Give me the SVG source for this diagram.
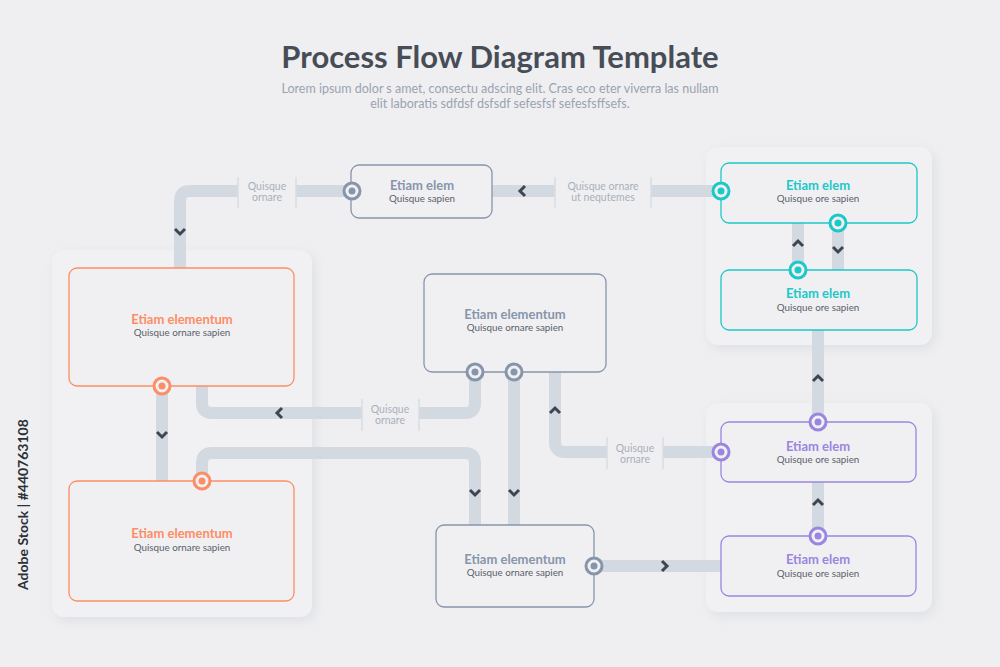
<svg xmlns="http://www.w3.org/2000/svg" width="1000" height="667" viewBox="0 0 1000 667">
<defs>
<filter id="sh" x="-20%" y="-20%" width="140%" height="140%"><feDropShadow dx="3" dy="4" stdDeviation="6" flood-color="#c4c8d0" flood-opacity="0.4"/></filter>
</defs>
<style>
text{font-family:"Lato","Liberation Sans",sans-serif}
.title{font-size:31px;font-weight:bold;fill:#474d57}
.sub{font-size:12.5px;fill:#9aa3b0}
.panel{fill:#f1f1f3;filter:url(#sh)}
.node{fill:#f0f0f2;stroke-width:1.3}
.t{font-size:13px;font-weight:bold;text-anchor:middle}
.s{font-size:9.8px;fill:#5a606a;text-anchor:middle}
.trk{fill:none;stroke:#d3d9e1;stroke-width:12}
.chev{fill:none;stroke:#3f4550;stroke-width:3}
.lb{font-size:10.5px;fill:#a9b0bb;text-anchor:middle}
.lbg{fill:#efeff1}
.sep{stroke:#d8dce2;stroke-width:1.5}
.g{stroke:#8795ab}.gf{fill:#8795ab}
.c{stroke:#1cc8c8}.cf{fill:#1cc8c8}
.o{stroke:#fd8d64}.of{fill:#fd8d64}
.p{stroke:#9a86e0}.pf{fill:#9a86e0}
.ring{fill:#f0f0f2;stroke-width:3}
</style>
<rect width="1000" height="667" fill="#efeff1"/>
<text x="500" y="68" text-anchor="middle" class="title">Process Flow Diagram Template</text>
<text x="500" y="93" text-anchor="middle" class="sub">Lorem ipsum dolor s amet, consectu adscing elit. Cras eco eter viverra las nullam</text>
<text x="500" y="108" text-anchor="middle" class="sub">elit laboratis sdfdsf dsfsdf sefesfsf sefesfsffsefs.</text>
<text transform="translate(28,590) rotate(-90)" font-size="14" font-weight="bold" fill="#2b2f36">Adobe Stock | #440763108</text>
<rect class="panel" x="52" y="250" width="260" height="367" rx="12"/>
<rect class="panel" x="706" y="147" width="226" height="198" rx="12"/>
<rect class="panel" x="706" y="403" width="226" height="209" rx="12"/>
<g id="connectors">
<path class="trk" d="M352,191 H190 Q180,191 180,201 V268"/>
<path class="trk" d="M721,191 H492"/>
<path class="trk" d="M798,223 V270 M838,223 V270"/>
<path class="trk" d="M818,330 V422 M818,482 V536 M162,386 V481"/>
<path class="trk" d="M475,372 V403 Q475,413 465,413 H212 Q202,413 202,403 V386"/>
<path class="trk" d="M202,481 V463 Q202,453 212,453 H465 Q475,453 475,463 V525"/>
<path class="trk" d="M514,372 V525"/>
<path class="trk" d="M721,452 H565 Q555,452 555,442 V372"/>
<path class="trk" d="M594,566 H721"/>
<path class="chev" d="M175,229 L180,234 L185,229"/>
<path class="chev" d="M525,186 L520,191 L525,196"/>
<path class="chev" d="M793,246 L798,241 L803,246"/>
<path class="chev" d="M833,247 L838,252 L843,247"/>
<path class="chev" d="M813,381 L818,376 L823,381"/>
<path class="chev" d="M813,505 L818,500 L823,505"/>
<path class="chev" d="M157,432 L162,437 L167,432"/>
<path class="chev" d="M282,408 L277,413 L282,418"/>
<path class="chev" d="M470,490 L475,495 L480,490"/>
<path class="chev" d="M509,490 L514,495 L519,490"/>
<path class="chev" d="M550,413 L555,408 L560,413"/>
<path class="chev" d="M662,561 L667,566 L662,571"/>
<rect class="lbg" x="238" y="178" width="58" height="28"/><line class="sep" x1="238" y1="177" x2="238" y2="208"/><line class="sep" x1="296" y1="177" x2="296" y2="208"/>
<text class="lb" x="267" y="190">Quisque</text><text class="lb" x="267" y="201">ornare</text>
<rect class="lbg" x="555" y="178" width="96" height="28"/><line class="sep" x1="555" y1="177" x2="555" y2="208"/><line class="sep" x1="651" y1="177" x2="651" y2="208"/>
<text class="lb" x="603" y="190">Quisque ornare</text><text class="lb" x="603" y="201">ut nequtemes</text>
<rect class="lbg" x="362" y="400" width="57" height="30"/><line class="sep" x1="362" y1="399" x2="362" y2="431"/><line class="sep" x1="419" y1="399" x2="419" y2="431"/>
<text class="lb" x="390" y="413">Quisque</text><text class="lb" x="390" y="424">ornare</text>
<rect class="lbg" x="607" y="438" width="56" height="30"/><line class="sep" x1="607" y1="437" x2="607" y2="469"/><line class="sep" x1="663" y1="437" x2="663" y2="469"/>
<text class="lb" x="635" y="452">Quisque</text><text class="lb" x="635" y="463">ornare</text>
</g>
<g id="n-top"><rect class="node g" x="351" y="165" width="141" height="53" rx="8"/><text class="t gf" x="422" y="190">Etiam elem</text><text class="s" x="422" y="202">Quisque sapien</text>
<circle class="ring g" cx="352" cy="191" r="8"/><circle class="gf" cx="352" cy="191" r="3.5"/></g>
<g id="n-teal1"><rect class="node c" x="721" y="163" width="196" height="60" rx="8"/><text class="t cf" x="818" y="190">Etiam elem</text><text class="s" x="818" y="202">Quisque ore sapien</text>
<circle class="ring c" cx="721" cy="191" r="8"/><circle class="cf" cx="721" cy="191" r="3.5"/><circle class="ring c" cx="838" cy="223" r="8"/><circle class="cf" cx="838" cy="223" r="3.5"/></g>
<g id="n-teal2"><rect class="node c" x="721" y="270" width="196" height="60" rx="8"/><text class="t cf" x="818" y="298">Etiam elem</text><text class="s" x="818" y="311">Quisque ore sapien</text>
<circle class="ring c" cx="798" cy="270" r="8"/><circle class="cf" cx="798" cy="270" r="3.5"/></g>
<g id="n-orange1"><rect class="node o" x="69" y="268" width="225" height="118" rx="8"/><text class="t of" x="182" y="324">Etiam elementum</text><text class="s" x="182" y="336">Quisque ornare sapien</text>
<circle class="ring o" cx="162" cy="386" r="8"/><circle class="of" cx="162" cy="386" r="3.5"/></g>
<g id="n-orange2"><rect class="node o" x="69" y="481" width="225" height="120" rx="8"/><text class="t of" x="182" y="538">Etiam elementum</text><text class="s" x="182" y="551">Quisque ornare sapien</text>
<circle class="ring o" cx="202" cy="481" r="8"/><circle class="of" cx="202" cy="481" r="3.5"/></g>
<g id="n-center"><rect class="node g" x="424" y="274" width="182" height="98" rx="8"/><text class="t gf" x="515" y="319">Etiam elementum</text><text class="s" x="515" y="331">Quisque ornare sapien</text>
<circle class="ring g" cx="475" cy="372" r="8"/><circle class="gf" cx="475" cy="372" r="3.5"/><circle class="ring g" cx="514" cy="372" r="8"/><circle class="gf" cx="514" cy="372" r="3.5"/></g>
<g id="n-bottom"><rect class="node g" x="436" y="525" width="158" height="82" rx="8"/><text class="t gf" x="515" y="564">Etiam elementum</text><text class="s" x="515" y="576">Quisque ornare sapien</text>
<circle class="ring g" cx="594" cy="566" r="8"/><circle class="gf" cx="594" cy="566" r="3.5"/></g>
<g id="n-purple1"><rect class="node p" x="721" y="422" width="195" height="60" rx="8"/><text class="t pf" x="818" y="451">Etiam elem</text><text class="s" x="818" y="463">Quisque ore sapien</text>
<circle class="ring p" cx="818" cy="422" r="8"/><circle class="pf" cx="818" cy="422" r="3.5"/><circle class="ring p" cx="721" cy="452" r="8"/><circle class="pf" cx="721" cy="452" r="3.5"/></g>
<g id="n-purple2"><rect class="node p" x="721" y="536" width="195" height="60" rx="8"/><text class="t pf" x="818" y="564">Etiam elem</text><text class="s" x="818" y="577">Quisque ore sapien</text>
<circle class="ring p" cx="818" cy="536" r="8"/><circle class="pf" cx="818" cy="536" r="3.5"/></g>
</svg>
